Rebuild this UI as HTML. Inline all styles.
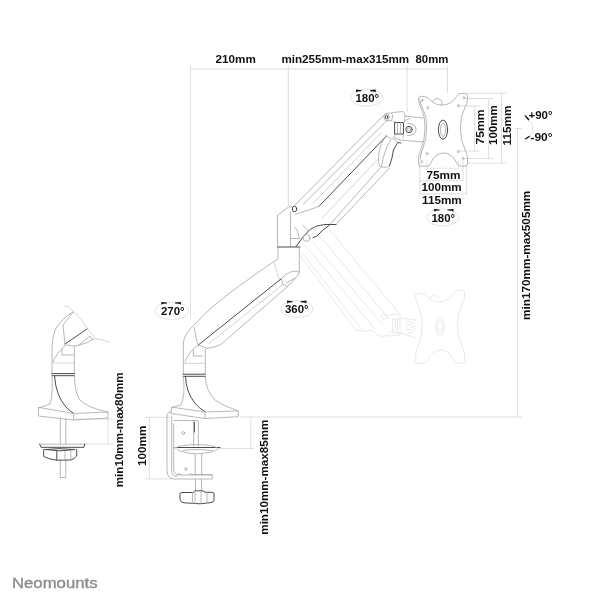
<!DOCTYPE html>
<html><head><meta charset="utf-8">
<style>
html,body{margin:0;padding:0;background:#fff;}
body{width:600px;height:600px;overflow:hidden;}
svg{display:block;will-change:transform;}
text{font-family:"Liberation Sans",sans-serif;font-weight:bold;fill:#111;}
.t{font-size:10.6px;}
.e{font-size:11.6px;}
.d{stroke:#a6a6a6;stroke-width:.8;fill:none;stroke-linecap:round;stroke-linejoin:round;}
.k{stroke:#4c4c4c;stroke-width:1;fill:none;stroke-linecap:round;stroke-linejoin:round;}
.l{stroke:#c4c4c4;stroke-width:.7;fill:none;stroke-linecap:round;stroke-linejoin:round;}
.g{stroke:#e5e5e5;stroke-width:.85;fill:none;stroke-linecap:round;stroke-linejoin:round;}
.m{stroke:#d6d6d6;stroke-width:.8;fill:none;}
.el{stroke:#dcdcdc;stroke-width:.8;fill:none;}
.a{fill:#111;stroke:none;}
</style></head><body>
<svg width="600" height="600" viewBox="0 0 600 600">
<rect width="600" height="600" fill="#fff"/>

<!-- DIMENSION LINES -->
<g class="m" id="dims">
<path d="M190.5 69H447.5"/>
<path d="M190.5 66V317"/>
<path d="M288.3 66V206"/>
<path d="M407 66V112"/>
<path d="M447.5 66V93"/>
<!-- right vertical dims -->
<path d="M466 93.3H507M501.5 93.3V163.2M467 163.2H507"/>
<path d="M464 98.5H493.5M488.6 98.5V158.6M464 158.6H493.5"/>
<path d="M458.5 106H480M474.7 106V151M458.5 151H480"/>
<!-- bottom horizontal dims of plate -->
<path d="M419.8 162V194M466.3 164V194.5M419.8 193.8H466.3"/>
<path d="M463 160V181M419.8 180.8H463"/>
<path stroke="#e2e2e2" d="M426.8 160V168.5M458.5 160V168.5M426.8 168.3H458.5"/>
<!-- long vertical -->
<path d="M521.5 128.5H515M517.5 128.5V417"/>
<path d="M240 417H523"/>
<!-- clamp dims -->
<path d="M144.7 417.3H170M149.4 417.3V478.9M144.7 478.9H173"/>
<path d="M250.8 417V448.5M218 448.5H254"/>
<!-- left fig dims -->
<path d="M75 419H113M108 419V444M84 444H113"/>
</g>


<!-- GHOST ARM -->
<g class="g" id="ghost">
<path d="M327 227L399 313M317 233L389 319M310 239L383 325M305 245L375 329M301 251L361 329M299 254L356 330"/>
<path d="M356 330Q366 332 372 330Q378 338 386 336L392 331"/>
<path d="M386.500 315L400 314V319M400 333V335L388 336"/>
<path d="M400 318L416 320M400 333L416 338"/>
<circle cx="409" cy="327" r="3"/><path d="M407 321Q415 321 415 327Q415 333 407 333"/>
<path d="M415.6 296Q415.4 293.4 418 293.2L421.5 293.6Q425 294.2 426.5 296.5Q433 303 440.7 302Q449 301 453.5 293.5Q455 290.5 458 290.5L462.500 290.5Q464.5 290.7 464.5 293L464.5 297Q464.300 300 462.5 303Q457.300 313 457.300 325Q457.300 337 462.5 348Q464.5 352 464.5 355L464.5 360.5Q464.5 362.8 462.5 363L457.5 363Q455 363 454 360.5Q449 350 440.700 350Q432 350 427.5 360.5Q426.5 363 424 363.3L418 363.3Q415.6 363.3 415.6 361L415.6 356Q415.600 352 417.5 348Q422 337 422 325Q422 313 417.5 304Q415.600 300 415.600 296Z"/>
<ellipse cx="440" cy="326.500" rx="4.300" ry="9"/><ellipse cx="440" cy="326.500" rx="2.400" ry="6"/>
<path d="M429.500 298.500Q433 293 438.500 297.500"/>
<path d="M393 319H400V333H393ZM395.300 319V333M397.600 319V333"/>
<circle cx="384" cy="316.500" r="2.600"/>
</g>

<!-- UPPER ARM -->
<g class="d" id="upper">
<path d="M295 205L385 114"/>
<path d="M303.500 204L387 120.500"/>
<path class="l" d="M313 203.500L381 133"/>
<path class="k" d="M319 206.300L386 136.500"/>
<path d="M329.500 225L380 168"/>
<path class="l" d="M322 218L379 158"/>
<path d="M336 224.500L389.500 168"/>
<!-- spring pocket -->
<path d="M386 135.500Q380 144 379 152Q377.500 164 380 166.500Q386 168.500 389.500 166"/>
<path class="k" d="M389.500 166Q392.500 158 393.500 150"/>
<path d="M386 135.500Q390 137 391 139.500Q384 150 381.500 166.800"/>
<path class="k" d="M393.500 150Q396 146 397.500 142.500L401 143"/>
<!-- lower end of upper arm -->
<path d="M295 214.500L310 209.500Q315 207.800 319 206.300"/>
<path class="k" d="M336 224.500L325 224.500Q316 225 310 229.500Q303 236 296 246.500"/>
<path class="k" d="M329.500 225Q322 230 317 236L313 237.500"/>
</g>

<!-- TOP JOINT + TILT -->
<g class="d" id="tilt">
<ellipse cx="386.5" cy="117" rx="2.6" ry="3.6"/>
<ellipse class="k" cx="386.500" cy="117" rx="1.2" ry="1.800"/>
<path d="M386.500 113.400L391.500 112.800Q394 116.500 391.500 120.600L386.500 120.600"/>
<path d="M392.500 112.500L403 111.500Q405 113 405 116L404.500 122"/>
<path d="M393 121L395 122.500"/>
<path class="k" d="M395 122.500H403.500V134H395Z"/>
<path d="M397.500 122.500V134M400.500 122.500V134"/>
<path d="M405 116L423 118M403.500 122.500Q406 118.500 410 118.500"/>
<path d="M408 123.500Q416 123.500 416 129.500Q416 135.500 408 135.500"/>
<circle class="k" cx="409" cy="129.500" r="3.200"/>
<circle cx="409" cy="129.500" r="1.700"/>
<path d="M395 134L394 137.500L400 140L423 142"/>
<path d="M403.500 134L403 138"/>
<path d="M392 138Q396 139.500 397.500 142.500"/>
</g>

<!-- VESA PLATE -->
<g class="d" id="plate">
<path d="M418.6 99Q418.4 96.4 421 96.2L424.5 96.6Q428 97.2 429.5 99.5Q436 106 443.7 105Q452 104 456.5 96.5Q458 93.5 461 93.5L465.500 93.5Q467.5 93.7 467.5 96L467.5 100Q467.300 103 465.5 106Q460.300 116 460.300 128Q460.300 140 465.5 151Q467.5 155 467.5 158L467.5 163.5Q467.5 165.8 465.5 166L460.5 166Q458 166 457 163.5Q452 153 443.700 153Q435 153 430.5 163.5Q429.5 166 427 166.3L421 166.3Q418.6 166.3 418.6 164L418.6 159Q418.600 155 420.5 151Q425 140 425 128Q425 116 420.5 107Q418.600 103 418.600 99Z"/>
<path d="M420.300 101Q420.500 104 422 107Q426.700 116 426.700 128Q426.700 140 422 151Q420.300 155 420.300 159"/>
<ellipse class="k" cx="443" cy="129.700" rx="4.600" ry="9.600"/>
<ellipse cx="443" cy="129.700" rx="2.600" ry="6.600"/>
<path d="M432.500 101.500Q436 96 441.500 100.500Q442.500 102.500 441.500 104.800"/>
<g stroke-width=".7">
<ellipse cx="422" cy="100.300" rx=".9" ry="1.300"/><ellipse cx="427.700" cy="107.700" rx=".9" ry="1.300"/>
<ellipse cx="463.700" cy="97.700" rx=".9" ry="1.300"/><ellipse cx="458.300" cy="105.700" rx=".9" ry="1.300"/>
<ellipse cx="458.300" cy="151.700" rx=".9" ry="1.300"/><ellipse cx="463" cy="158.300" rx=".9" ry="1.300"/>
<ellipse cx="427" cy="153.700" rx=".9" ry="1.300"/><ellipse cx="421.700" cy="161.700" rx=".9" ry="1.300"/>
</g>
</g>

<!-- ELBOW -->
<g class="d" id="elbow">
<ellipse class="k" cx="294.500" cy="209" rx="2.200" ry="2.900"/>
<path d="M277.500 215.500L288.500 207L291.500 206.800"/>
<path d="M277.500 215.500V247"/>
<path d="M290.500 212V246.500"/>
<path class="k" d="M277.500 247H300"/>
<path d="M294.500 227Q298 229 299 238M291 238.500H299"/>
<path d="M303 225L308 231"/>
<circle cx="306.500" cy="238" r="3.400"/>
</g>

<!-- LOWER ARM -->
<g class="d" id="lower">
<path d="M278 246.700V258.700C250 278 215 302 199 320C190 329 183.300 335 183.300 345V374"/>
<path class="l" d="M274 262L279 279"/>
<path d="M299.300 247V272"/>
<path class="k" d="M281.300 278.700L198.300 345"/>
<path d="M281.300 278.700Q285 273.500 292 271.500Q297.500 270.500 299.300 272Q299 275 296 277.500L288.700 285.500L222 343.500Q217 347 207.500 348.300"/>
<path d="M281.300 278.700L283 284.500L287.500 286.500M295.300 278L286 283"/>
<path class="l" d="M283 284.500L209 343.500"/>
<path d="M194 327.500L197.500 344"/>
<path d="M198.300 345L207.500 348.300"/>
<path d="M198.300 345Q189 351 185 362"/>
<path d="M193.300 350V356H202.500"/>
</g>

<!-- BASE -->
<g class="d" id="base">
<path d="M205.300 349V374"/>
<path class="l" d="M183.300 363.300H205.300"/>
<path class="k" d="M183 374.200H205.300M183 376.300H205.300"/>
<path d="M183.300 376.500Q185.500 395 181 405L171.700 407.500"/>
<path class="k" d="M185.500 376.500Q186 392 195 403.300Q200 409 205 411.700"/>
<path d="M205.300 376.500Q206 391 215 400Q225 407 238.300 410.800"/>
<path d="M171.700 407.500L170.800 413.500L205 418.500L238.300 416.700V410.800L205 412Z"/>
<path d="M205 412V418.500"/>
</g>

<!-- CLAMP -->
<g class="d" id="clamp">
<path d="M171 411.700Q167 411.700 167 416V471Q167 479 175 479H212.300V475H180Q173.700 475 173.700 469V423.700"/>
<path d="M171.700 416V471Q171.700 476.300 177 476.500"/>
<path d="M173.700 420.500H198.300V446.300"/>
<path d="M193.700 422.300V446"/>
<path class="k" d="M194.400 422V432"/>
<path d="M173.700 447.500H178"/>
<circle cx="183.300" cy="433" r="1.400"/><ellipse cx="185.700" cy="469" rx="1" ry="1.500"/>
<path class="k" d="M177 447.500H220"/>
<path d="M175 448.200Q180 444.800 196.500 444.500Q213 444.800 217.700 448"/>
<path d="M177 449Q180 453 196.700 453.800Q214 453 217.700 449"/>
<path d="M183 450.500Q196 448.500 212 450.500"/>
<path d="M195.200 454.300V475M201.700 454.300V475M195.500 479.500V490.500M201.500 479.500V490.500"/>
<path d="M177 474.500Q179 472.500 181 474.500M189 474.500Q191 472.500 193 474.500H212"/>
</g>
<g class="k" id="knob">
<path d="M180 494Q180 492.500 182 492.500H193L195 490.800H203L205 492.300H212Q214 492.300 214 494V500Q214 502 211 502.600L200 503.800L184 502.800Q180 502 180 500Z"/>
<path class="d" d="M192.500 492.500V503.300M195 491V503.500M201 491V503.600M207 492.500V503.200"/>
</g>

<!-- LEFT FIGURE -->
<g class="d" id="left">
<path d="M52 374V352Q52 338 55 330Q62 318 73 312"/>
<path class="l" d="M64 306Q70 306 73 312Q80 316 87 328L96 339Q100 339 109 342"/>
<path d="M73 312L63 325L65 344"/>
<path class="k" d="M65 344L87 329"/>
<path d="M67 345Q72 346.500 76 346L86 343L94 339"/>
<path d="M78 345.500L90 336L92.500 339.500"/>
<path d="M66 345Q57 352 53 362"/>
<path d="M62 349V355H73"/>
<path d="M74.400 347V374"/>
<path class="l" d="M52 363H74.400"/>
<path class="k" d="M52 373.600H74.400M52 375.700H74.400"/>
<path d="M52 376Q53 396 50 404L39 408"/>
<path d="M74.400 376Q75 394 80 400Q88 408 108 412"/>
<path class="k" d="M54.500 376Q56 396 66 407Q70 411 73.600 413.500"/>
<path d="M38.500 407.700V416L73.600 420L108 418V412L73.600 413.500Z"/>
<path d="M73.600 413.500V420"/>
<path d="M60.300 418V444M65.800 419V444M60.300 460V477.500H65.800V460"/>
</g>
<g class="k" id="nut">
<path class="d" d="M39.700 444.200H84.700"/>
<path d="M39.700 444.200L41 447.300H84L84.700 444.200"/>
<path d="M45 449.500Q58 447.800 75 449.500Q60 452.300 45 449.500Z"/>
<path d="M43.700 449.500V456.600Q50 459.500 56.800 460.200L70.800 460Q75 458.500 76.700 456V449.500"/>
<path d="M56.800 451.500V460.200"/>
<path class="d" d="M65 451.500V460M70.800 451V460"/>
</g>

<!-- TEXT -->
<g id="texts">
<text class="t" x="215.5" y="63" textLength="40.3" lengthAdjust="spacingAndGlyphs">210mm</text>
<text class="t" x="281.4" y="63" textLength="127.7" lengthAdjust="spacingAndGlyphs">min255mm-max315mm</text>
<text class="t" x="415.5" y="63" textLength="32.9" lengthAdjust="spacingAndGlyphs">80mm</text>
<text class="t" x="426.5" y="178.9" textLength="34" lengthAdjust="spacingAndGlyphs">75mm</text>
<text class="t" x="421.5" y="190.8" textLength="40.2" lengthAdjust="spacingAndGlyphs">100mm</text>
<text class="t" x="422" y="203.6" textLength="39.8" lengthAdjust="spacingAndGlyphs">115mm</text>
<text class="t" x="528.5" y="119" textLength="24" lengthAdjust="spacingAndGlyphs">+90°</text>
<text class="t" x="530.5" y="141" textLength="22" lengthAdjust="spacingAndGlyphs">-90°</text>
<text class="e" x="355.5" y="102" textLength="23.7" lengthAdjust="spacingAndGlyphs">180°</text>
<text class="e" x="431.5" y="221.5" textLength="23.7" lengthAdjust="spacingAndGlyphs">180°</text>
<text class="e" x="161" y="314.8" textLength="23.7" lengthAdjust="spacingAndGlyphs">270°</text>
<text class="e" x="285" y="313.2" textLength="23.7" lengthAdjust="spacingAndGlyphs">360°</text>
<!-- vertical -->
<text class="t" transform="translate(484.3 144.5) rotate(-90)" textLength="35.2" lengthAdjust="spacingAndGlyphs">75mm</text>
<text class="t" transform="translate(497.2 145) rotate(-90)" textLength="39.8" lengthAdjust="spacingAndGlyphs">100mm</text>
<text class="t" transform="translate(511.3 145.4) rotate(-90)" textLength="40" lengthAdjust="spacingAndGlyphs">115mm</text>
<text class="t" transform="translate(530 319.9) rotate(-90)" textLength="129.2" lengthAdjust="spacingAndGlyphs">min170mm-max505mm</text>
<text class="t" transform="translate(122.9 487.2) rotate(-90)" textLength="114.8" lengthAdjust="spacingAndGlyphs">min10mm-max80mm</text>
<text class="t" transform="translate(146 465.9) rotate(-90)" textLength="40.2" lengthAdjust="spacingAndGlyphs">100mm</text>
<text class="t" transform="translate(268 534.7) rotate(-90)" textLength="115" lengthAdjust="spacingAndGlyphs">min10mm-max85mm</text>
<text x="12" y="587.7" style="font-size:15px;font-weight:normal;fill:#8f8f8f;stroke:#8f8f8f;stroke-width:.45" textLength="85.5" lengthAdjust="spacingAndGlyphs">Neomounts</text>
</g>

<!-- ELLIPSES -->
<g id="ell">
<ellipse class="el" cx="366.75" cy="97.6" rx="16.2" ry="8.6"/>
<ellipse class="el" cx="443" cy="217.5" rx="16" ry="8.5"/>
<ellipse class="el" cx="171.75" cy="310.75" rx="16.75" ry="8.75"/>
<ellipse class="el" cx="297" cy="309" rx="16" ry="8.5"/>
</g>

<!-- ARROWS -->
<g class="a" id="arrows">
<path d="M356 89.6L361.5 90.2L361.5 91.2L358.0 91.4L356.2 92.4Z"/><path d="M375.8 89.6L370 90.2L370 91.2L373.8 91.4L375.6 92.4Z"/>
<path d="M434 209.0L439.5 209.6L439.5 210.6L436.0 210.8L434.2 211.8Z"/><path d="M453.5 209.0L447.5 209.6L447.5 210.6L451.5 210.8L453.3 211.8Z"/>
<path d="M161.2 302.0L167 302.6L167 303.6L163.2 303.8L161.4 304.8Z"/><path d="M181 302.0L175 302.6L175 303.6L179.0 303.8L180.8 304.8Z"/>
<path d="M287 300.6L292.5 301.2L292.5 302.2L289.0 302.4L287.2 303.4Z"/><path d="M306.5 300.6L300.5 301.2L300.5 302.2L304.5 302.4L306.3 303.4Z"/>
<path d="M524.200 115.600L525.800 115.400L529.600 119.500L528.300 120.500Z"/>
<path d="M524.600 138.700L529.500 135.500L530 136.800L525.800 139.600Z"/>
</g>
<path class="el" d="M529 119.800Q537 128 529.500 136.300"/>
</svg>
</body></html>
